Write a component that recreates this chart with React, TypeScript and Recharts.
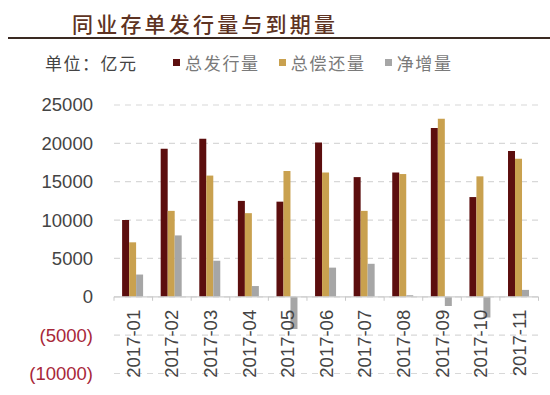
import React from "react";
import { BarChart, Bar, XAxis, YAxis, CartesianGrid, ReferenceLine } from "recharts";

const months = ["2017-01", "2017-02", "2017-03", "2017-04", "2017-05", "2017-06", "2017-07", "2017-08", "2017-09", "2017-10", "2017-11"];
const issuance = [10000, 19300, 20600, 12500, 12400, 20100, 15600, 16200, 22000, 13000, 19000];
const repayment = [7100, 11200, 15800, 10900, 16400, 16200, 11200, 16000, 23200, 15700, 18000];
const netIncrease = [2900, 8000, 4700, 1400, -4200, 3800, 4300, 200, -1200, -2700, 900];
const yTicks = [-10000, -5000, 0, 5000, 10000, 15000, 20000, 25000];

const seriesNames = ["总发行量", "总偿还量", "净增量"];
const seriesColors = ["#5c0e0e", "#c9a14f", "#a6a6a6"];
const titleText = "同业存单发行量与到期量";
const unitText = "单位：亿元";

const data = months.map((m, i) => ({
  month: m,
  issuance: issuance[i],
  repayment: repayment[i],
  net: netIncrease[i],
}));

const W = 550;
const H = 395;
const X_H = 20;
const M = { top: 105, right: 11.5, bottom: 1.5, left: 0 };
const Y_W = 114;
const yMin = yTicks[0];
const yMax = yTicks[yTicks.length - 1];
const plotTop = M.top;
const plotH = H - M.top - M.bottom - X_H;
const plotW = W - M.left - M.right - Y_W;
const zeroY = plotTop + (plotH * yMax) / (yMax - yMin);
const band = plotW / months.length;

const fmt = (v: number) => (v < 0 ? `(${Math.abs(v)})` : `${v}`);

const renderYTick = (props: any) => {
  const { x, y, payload } = props;
  const v = payload.value as number;
  return (
    <text
      key={`y-${v}`}
      x={x}
      y={y}
      dy="0.35em"
      textAnchor="end"
      fontFamily="'Liberation Sans', Arial, sans-serif"
      fontSize={18.5}
      fill={v < 0 ? "#a8283a" : "#444444"}
    >
      {fmt(v)}
    </text>
  );
};

const renderXTick = (props: any) => {
  const { x, payload, index } = props;
  const ty = zeroY + 13;
  return (
    <g key={`x-${index}`}>
      <line x1={x - band / 2} x2={x - band / 2} y1={zeroY} y2={zeroY + 4} stroke="#c8c8c8" />
      {index === months.length - 1 && (
        <line x1={x + band / 2} x2={x + band / 2} y1={zeroY} y2={zeroY + 4} stroke="#c8c8c8" />
      )}
      <text
        x={x}
        y={ty}
        transform={`rotate(-90, ${x}, ${ty})`}
        textAnchor="end"
        dominantBaseline="central"
        fontFamily="'Liberation Sans', Arial, sans-serif"
        fontSize={18.5}
        fill="#444444"
      >
        {payload.value}
      </text>
    </g>
  );
};

export default function App() {
  return (
    <div style={{ position: "absolute", left: 0, top: 0, width: W, height: H, background: "#ffffff", overflow: "hidden" }}>
      <div
        style={{
          position: "absolute",
          left: 72,
          top: 9,
          fontFamily: "'Noto Sans CJK SC', sans-serif",
          fontSize: 21,
          fontWeight: 500,
          letterSpacing: 3.2,
          color: "#5e3322",
          lineHeight: "28px",
          whiteSpace: "nowrap",
        }}
      >
        {titleText}
      </div>
      <div style={{ position: "absolute", left: 8, top: 37, width: W - 8, height: 2, background: "#3a2a22" }} />
      <div
        style={{
          position: "absolute",
          left: 45,
          top: 50,
          height: 24,
          display: "flex",
          alignItems: "center",
          fontFamily: "'Noto Sans CJK SC', sans-serif",
          fontSize: 17,
          whiteSpace: "nowrap",
        }}
      >
        <span style={{ color: "#444444", letterSpacing: 1.5, width: 128 }}>{unitText}</span>
        {seriesNames.map((n, i) => (
          <span key={n} style={{ display: "flex", alignItems: "center", marginRight: 19 }}>
            <span style={{ display: "inline-block", width: 7, height: 7, background: seriesColors[i], marginRight: 5 }} />
            <span style={{ color: "#7a7a7a", letterSpacing: 1.7 }}>{n}</span>
          </span>
        ))}
      </div>
      <div style={{ position: "absolute", left: 0, top: 0 }}>
        <BarChart width={W} height={H} data={data} margin={M} barCategoryGap="21%" barGap={0}>
          <CartesianGrid vertical={false} stroke="#d8d8d8" strokeDasharray="6 5" strokeWidth={1.2} />
          <XAxis
            dataKey="month"
            height={X_H}
            axisLine={false}
            tickLine={false}
            interval={0}
            tick={renderXTick}
          />
          <YAxis
            width={Y_W}
            domain={[yMin, yMax]}
            ticks={yTicks}
            axisLine={false}
            tickLine={false}
            tickSize={6}
            tickMargin={15}
            interval={0}
            tick={renderYTick}
          />
          <ReferenceLine y={0} stroke="#cfcfcf" strokeWidth={1.3} />
          <Bar dataKey="issuance" fill={seriesColors[0]} isAnimationActive={false} />
          <Bar dataKey="repayment" fill={seriesColors[1]} isAnimationActive={false} />
          <Bar dataKey="net" fill={seriesColors[2]} isAnimationActive={false} />
        </BarChart>
      </div>
    </div>
  );
}
